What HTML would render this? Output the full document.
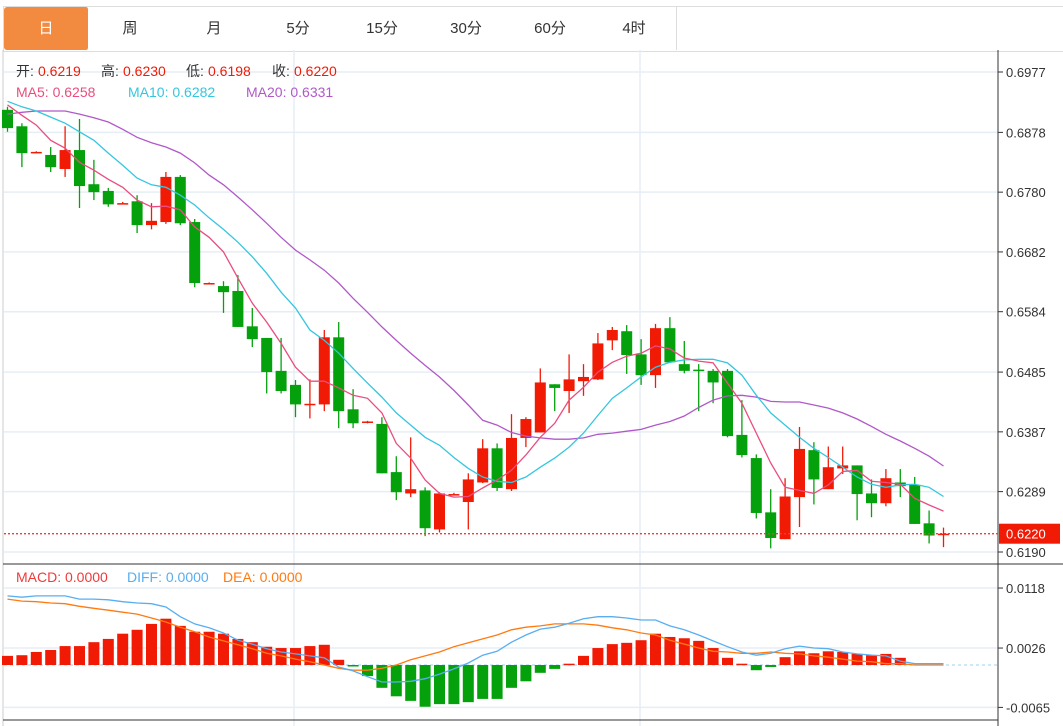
<!DOCTYPE html>
<html><head><meta charset="utf-8">
<style>
body{margin:0;background:#fff;font-family:"Liberation Sans","Noto Sans CJK SC",sans-serif;}
#wrap{position:relative;width:1063px;height:726px;overflow:hidden;background:#fff;}
.tab{position:absolute;top:7px;height:43px;width:84px;border-right:1px solid #ddd;text-align:center;line-height:43px;font-size:15px;color:#333;background:#fff;}
.tab.active{background:#f28a40;color:#fff;border-radius:3px;}
</style></head>
<body>
<div id="wrap">
<div style="position:absolute;left:3px;top:6px;width:1060px;height:44px;border-top:1px solid #ddd;border-left:1px solid #ddd;border-bottom:1px solid #ddd;"></div>
<div class="tab active" style="left:4px">日</div>
<div class="tab" style="left:88px">周</div>
<div class="tab" style="left:172px">月</div>
<div class="tab" style="left:256px">5分</div>
<div class="tab" style="left:340px">15分</div>
<div class="tab" style="left:424px">30分</div>
<div class="tab" style="left:508px">60分</div>
<div class="tab" style="left:592px">4时</div>
<svg id="chart" width="1063" height="726" style="position:absolute;left:0;top:0" font-family="Liberation Sans, Noto Sans CJK SC, sans-serif"></svg>
</div>
<script>
const opens=[6915,6888,6845,6841,6818,6849,6793,6782,6761,6765,6726,6731,6805,6731,6630,6626,6618,6560,6541,6487,6464,6432,6432,6542,6424,6403,6400,6321,6286,6291,6227,6284,6272,6304,6360,6293,6377,6386,6465,6454,6470,6473,6537,6552,6514,6480,6557,6498,6489,6487,6487,6382,6344,6255,6211,6280,6357,6293,6327,6332,6286,6270,6304,6300,6237,6219];
const closes=[6885,6844,6846,6821,6849,6790,6780,6760,6762,6726,6733,6805,6729,6631,6631,6616,6559,6539,6485,6454,6432,6433,6542,6421,6401,6404,6319,6288,6293,6229,6286,6285,6309,6360,6295,6377,6408,6468,6459,6473,6477,6532,6554,6513,6480,6557,6501,6487,6488,6468,6380,6349,6254,6213,6281,6359,6309,6329,6332,6285,6270,6311,6298,6236,6217,6220];
const highs=[6920,6893,6847,6854,6888,6900,6833,6787,6764,6775,6762,6813,6808,6736,6632,6634,6644,6590,6541,6541,6472,6473,6554,6567,6457,6405,6411,6347,6378,6296,6288,6287,6319,6375,6368,6416,6411,6491,6465,6514,6498,6549,6559,6562,6539,6564,6575,6536,6498,6490,6490,6439,6350,6293,6311,6395,6370,6363,6363,6332,6309,6326,6326,6313,6258,6230];
const lows=[6879,6821,6844,6813,6805,6754,6767,6756,6760,6713,6719,6728,6726,6624,6629,6582,6559,6526,6450,6450,6411,6409,6421,6393,6393,6401,6319,6275,6280,6216,6222,6283,6227,6303,6290,6290,6362,6386,6421,6418,6446,6472,6521,6482,6464,6459,6500,6483,6421,6434,6378,6345,6245,6196,6211,6231,6268,6293,6318,6242,6247,6265,6280,6236,6204,6198];
const ma5=[6923,6906,6890,6865,6852,6829,6816,6801,6788,6767,6756,6757,6751,6723,6706,6682,6639,6598,6567,6532,6493,6470,6470,6459,6447,6442,6418,6368,6344,6308,6286,6280,6281,6295,6308,6324,6349,6378,6401,6439,6460,6485,6501,6511,6516,6528,6523,6508,6503,6500,6467,6434,6385,6336,6296,6291,6286,6300,6322,6324,6306,6304,6301,6278,6267,6257];
const ma10=[6929,6920,6913,6903,6893,6879,6865,6844,6824,6803,6792,6788,6775,6759,6738,6719,6698,6674,6647,6616,6590,6554,6537,6516,6491,6467,6444,6418,6398,6378,6365,6345,6327,6313,6306,6304,6313,6329,6344,6362,6385,6414,6442,6459,6477,6493,6501,6505,6506,6506,6500,6480,6447,6418,6398,6378,6360,6345,6329,6313,6301,6296,6300,6301,6296,6281];
const ma20=[6908,6911,6913,6913,6913,6908,6902,6895,6883,6870,6861,6854,6844,6828,6808,6792,6772,6751,6729,6706,6685,6669,6652,6631,6606,6583,6559,6537,6516,6496,6477,6455,6431,6406,6398,6386,6380,6377,6375,6375,6377,6383,6385,6388,6391,6398,6404,6413,6427,6439,6446,6447,6444,6437,6436,6436,6431,6426,6418,6408,6396,6383,6372,6360,6347,6331];
const macdHist=[14,15,20,23,29,29,35,40,48,54,63,71,60,51,51,48,40,35,28,26,26,29,31,8,-2,-17,-35,-48,-55,-64,-60,-60,-57,-52,-52,-35,-25,-12,-6,2,14,26,32,34,38,48,43,41,37,26,11,2,-8,-3,12,21,18,21,20,17,15,17,11,0,0,0];
const diff=[106,104,106,106,106,101,101,100,97,95,94,89,74,63,57,49,38,32,25,20,17,14,11,-3,-9,-18,-26,-26,-25,-21,-14,-6,3,15,21,35,46,55,58,64,71,74,74,72,69,69,60,54,46,37,28,20,15,18,25,29,26,25,20,17,15,14,6,2,2,2];
const dea=[101,98,97,95,94,90,87,84,81,78,72,66,58,51,43,37,31,25,18,14,9,5,0,-5,-8,-8,-5,0,8,14,20,28,34,40,46,54,58,60,63,63,63,61,57,54,49,46,38,32,26,21,20,18,18,20,18,17,14,12,9,6,5,2,2,0,0,0];
const priceTicks=[6977,6878,6780,6682,6584,6485,6387,6289,6190];
const macdTicks=[118,26,-65];

const svg=document.getElementById('chart');
const NS='http://www.w3.org/2000/svg';
function mk(tag,attrs,parent){const e=document.createElementNS(NS,tag);for(const k in attrs)e.setAttribute(k,attrs[k]);(parent||svg).appendChild(e);return e;}
const xAt=i=>7.5+i*14.4;
const yP=p=>72+(6977-p)*480/787;
const yM=v=>665-v*60/92;

// frames
let e;
e=mk('line',{x1:3,y1:50,x2:3,y2:726,stroke:'#ccc'});

// grid
priceTicks.forEach((t,i)=>{
  e=mk('line',{x1:4,x2:998,y1:yP(t),y2:yP(t),stroke:'#e6eef5','stroke-width':1.5});
  
  e=mk('line',{x1:998,x2:1003,y1:yP(t),y2:yP(t),stroke:'#333'});
  
  e=mk('text',{x:1006,y:yP(t)+5,'font-size':13,fill:'#333'});e.textContent=(t/10000).toFixed(4);
  
});
macdTicks.forEach(t=>{
  e=mk('line',{x1:4,x2:998,y1:yM(t),y2:yM(t),stroke:'#e6eef5','stroke-width':1.5});
  
  e=mk('line',{x1:998,x2:1003,y1:yM(t),y2:yM(t),stroke:'#333'});
  
  e=mk('text',{x:1006,y:yM(t)+5,'font-size':13,fill:'#333'});e.textContent=(t/10000).toFixed(4);
  
});
[294,640].forEach(x=>{
  e=mk('line',{x1:x,x2:x,y1:50,y2:726,stroke:'#e6eef5','stroke-width':1.5});
  
});
e=mk('line',{x1:998,x2:998,y1:50,y2:726,stroke:'#333'});

e=mk('line',{x1:3,x2:998,y1:564,y2:564,stroke:'#333'});

e=mk('line',{x1:998,x2:1063,y1:564,y2:564,stroke:'#333'});

e=mk('line',{x1:3,x2:998,y1:720,y2:720,stroke:'#333'});

e=mk('line',{x1:4,x2:998,y1:yM(0),y2:yM(0),stroke:'#9bd3f0','stroke-dasharray':'3,3'});


// candles
const RED='#f11a05',GREEN='#04a10c';
for(let i=0;i<opens.length;i++){
  const up=closes[i]>=opens[i];const c=up?RED:GREEN;const x=xAt(i);
  e=mk('line',{x1:x,x2:x,y1:yP(highs[i]),y2:yP(lows[i]),stroke:c,'stroke-width':1.3});
  
  const y1=yP(Math.max(opens[i],closes[i])),y2=yP(Math.min(opens[i],closes[i]));
  e=mk('rect',{x:x-5.5,y:y1,width:11,height:Math.max(1.5,y2-y1),fill:c});
  
}
function line(arr,f,color,name){
  const pts=arr.map((v,i)=>xAt(i).toFixed(1)+','+f(v).toFixed(1)).join(' ');
  const el=mk('polyline',{points:pts,fill:'none',stroke:color,'stroke-width':1.3});
  
  
}
line(ma20,yP,'#b158c9','ma20-line');
line(ma10,yP,'#35c6df','ma10-line');
line(ma5,yP,'#ea4d7e','ma5-line');

// last price
const last=closes[closes.length-1];
e=mk('line',{x1:4,x2:998,y1:yP(last),y2:yP(last),stroke:'#f33','stroke-dasharray':'2,2','stroke-width':1.3});

e=mk('rect',{x:999,y:yP(last)-10,width:61,height:20,fill:'#f11a05'});

e=mk('text',{x:1006,y:yP(last)+5,'font-size':13,fill:'#fff'});e.textContent=(last/10000).toFixed(4);


// macd bars
for(let i=0;i<macdHist.length;i++){
  const v=macdHist[i];if(v===0)continue;
  const y0=yM(0),y1=yM(v);
  e=mk('rect',{x:xAt(i)-5.5,y:Math.min(y0,y1),width:11,height:Math.max(1.5,Math.abs(y1-y0)),fill:v>0?RED:GREEN});
  
}
line(dea,yM,'#ff7a10','dea-line');
line(diff,yM,'#58aef0','diff-line');

// headers
function txt(x,y,s,color,name){const t=mk('text',{x:x,y:y,'font-size':14,fill:color});t.textContent=s;return t;}
txt(16,76,'开:','#333','open-label');txt(38,76,'0.6219','#f11a05','open-value');
txt(101,76,'高:','#333','high-label');txt(123,76,'0.6230','#f11a05','high-value');
txt(186,76,'低:','#333','low-label');txt(208,76,'0.6198','#f11a05','low-value');
txt(272,76,'收:','#333','close-label');txt(294,76,'0.6220','#f11a05','close-value');
txt(16,97,'MA5: 0.6258','#ea4d7e','ma5-legend');
txt(128,97,'MA10: 0.6282','#35c6df','ma10-legend');
txt(246,97,'MA20: 0.6331','#b158c9','ma20-legend');
txt(16,582,'MACD: 0.0000','#f03a3a','macd-legend');
txt(127,582,'DIFF: 0.0000','#58aef0','diff-legend');
txt(223,582,'DEA: 0.0000','#ff7a10','dea-legend');
</script>
</body></html>
